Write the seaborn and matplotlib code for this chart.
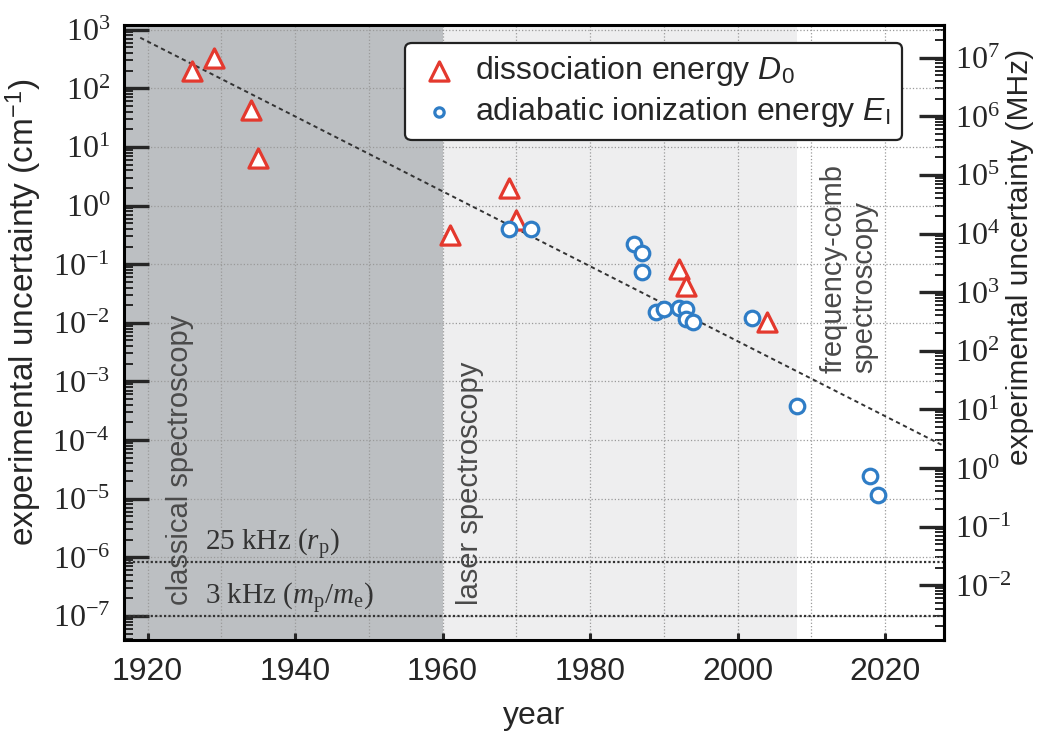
import matplotlib
matplotlib.use("Agg")
import matplotlib.pyplot as plt
import matplotlib.ticker as mticker
import numpy as np
import pandas as pd
import seaborn as sns

# dissociation energy D0 (cm^-1)
diss_years = [1926, 1929, 1934, 1935, 1961, 1969, 1970, 1992, 1993, 2004]
diss_unc = [2.0e2, 3.3e2, 42, 6.4, 0.32, 2.0, 0.57, 0.083, 0.042, 0.0104]

# adiabatic ionization energy EI (cm^-1)
ion_years = [1969, 1972, 1986, 1987, 1987, 1989, 1990, 1992, 1993, 1993, 1994, 2002, 2008, 2018, 2019]
ion_unc = [0.40, 0.40, 0.22, 0.155, 0.074, 0.0152, 0.0173, 0.018, 0.0173, 0.0117, 0.0102,
           0.0122, 3.8e-4, 2.45e-5, 1.15e-5]

# dashed trend line end points
trend_years = [1919, 2028]
trend_unc = [730, 7.9e-5]

# era boundaries (years)
era_edges = [1916.8, 1960, 2008]
era_names = ["classical spectroscopy", "laser spectroscopy", "frequency-comb\nspectroscopy"]

# reference precision lines
ref_unc = [8.34e-7, 1.0e-7]
ref_names = [r"25 kHz ($r_\mathrm{p}$)", r"3 kHz ($m_\mathrm{p}/m_\mathrm{e}$)"]

CM_TO_MHZ = 29979.2458

sns.set_style("white")
plt.rcParams["font.family"] = ["Liberation Sans", "DejaVu Sans"]
plt.rcParams["mathtext.fontset"] = "custom"
plt.rcParams["mathtext.rm"] = "Liberation Serif"
plt.rcParams["mathtext.it"] = "Liberation Serif:italic"
plt.rcParams["mathtext.bf"] = "Liberation Sans:italic"
plt.rcParams["mathtext.sf"] = "Liberation Sans"

red = "#e4392e"
blue = "#2f7dc6"

fig = plt.figure(figsize=(10.42, 7.31), dpi=100)
ax = fig.add_axes([0.119, 0.1245, 0.787, 0.8413])

ax.set_yscale("log")
ax.set_xlim(1916.8, 2028.0)
ax.set_ylim(10 ** -7.41, 10 ** 3.08)

ax.axvspan(era_edges[0], era_edges[1], color="#bcbfc2", zorder=0, lw=0)
ax.axvspan(era_edges[1], era_edges[2], color="#eeeeef", zorder=0, lw=0)

ax.xaxis.set_major_locator(mticker.MultipleLocator(20))
ax.xaxis.set_minor_locator(mticker.MultipleLocator(10))
ax.yaxis.set_major_locator(mticker.LogLocator(base=10, numticks=20))
ax.yaxis.set_minor_locator(mticker.LogLocator(base=10, subs=np.arange(2, 10), numticks=20))
fmt = mticker.FuncFormatter(lambda v, p: r"$10^{%d}$" % round(np.log10(v)))
ax.yaxis.set_major_formatter(fmt)
ax.yaxis.set_minor_formatter(mticker.NullFormatter())

ax.grid(True, which="major", axis="y", color="#9a9a9a", ls=":", lw=0.9, zorder=0.5)
ax.grid(True, which="both", axis="x", color="#9a9a9a", ls=":", lw=0.9, zorder=0.5)

for v in ref_unc:
    ax.axhline(v, color="#333333", ls=(0, (1, 1)), lw=1.6, zorder=1)

sns.lineplot(x=trend_years, y=trend_unc, ax=ax, color="#333333", lw=1.4,
             linestyle=(0, (2.2, 1.8)), zorder=2)

diss = pd.DataFrame({"year": diss_years, "unc": diss_unc})
ion = pd.DataFrame({"year": ion_years, "unc": ion_unc})
sns.scatterplot(data=diss, x="year", y="unc", ax=ax, marker="^", s=190, color="white",
                edgecolor=red, linewidth=2.3, zorder=4,
                label=r"dissociation energy $\mathbf{D}_\mathsf{0}$")
sns.scatterplot(data=ion, x="year", y="unc", ax=ax, marker="o", s=110, color="white",
                edgecolor=blue, linewidth=2.3, zorder=4,
                label=r"adiabatic ionization energy $\mathbf{E}_\mathsf{I}$")

# era labels
ax.text(1924.4, 10 ** -6.82, era_names[0], rotation=90, ha="center", va="bottom",
        fontsize=21, color="#4a4a4a")
ax.text(1963.7, 10 ** -6.82, era_names[1], rotation=90, ha="center", va="bottom",
        fontsize=21, color="#4a4a4a")
ax.text(2015.1, 10 ** -2.85, era_names[2], rotation=90, ha="center", va="bottom",
        multialignment="left", fontsize=21, color="#4a4a4a", linespacing=1.1)

for v, name in zip(ref_unc, ref_names):
    ax.text(1927.8, v * 1.55, name, family="Liberation Serif", fontsize=21,
            color="#333333", ha="left", va="baseline")

for s in ax.spines.values():
    s.set_linewidth(2.2)
    s.set_color("black")

ax.tick_params(axis="y", which="major", direction="in", length=18, width=2.4,
               left=True, right=False, labelsize=23, pad=10)
ax.tick_params(axis="y", which="minor", direction="in", length=6.5, width=1.4,
               left=True, right=False)
ax.tick_params(axis="x", which="major", direction="in", length=5, width=2.2,
               bottom=True, top=False, labelsize=23, pad=12)
ax.tick_params(axis="x", which="minor", length=0)

ax.set_xlabel("year", fontsize=23)
ax.set_ylabel(r"experimental uncertainty (cm$^{\mathsf{-1}}$)", fontsize=24)
ax.yaxis.set_label_coords(-0.097, 0.533)
ax.xaxis.set_label_coords(0.5, -0.1)

sec = ax.secondary_yaxis("right", functions=(lambda x: x * CM_TO_MHZ, lambda x: x / CM_TO_MHZ))
sec.yaxis.set_major_locator(mticker.LogLocator(base=10, numticks=20))
sec.yaxis.set_minor_locator(mticker.LogLocator(base=10, subs=np.arange(2, 10), numticks=20))
sec.yaxis.set_major_formatter(fmt)
sec.yaxis.set_minor_formatter(mticker.NullFormatter())
sec.spines["right"].set_linewidth(2.2)
sec.tick_params(axis="y", which="major", direction="in", length=18, width=2.4,
                labelsize=23, pad=8)
sec.tick_params(axis="y", which="minor", direction="in", length=6.5, width=1.4)
sec.set_ylabel("experimental uncertainty (MHz)", fontsize=21.5)
sec.yaxis.set_label_coords(1.076, 0.623, transform=ax.transAxes)

leg = ax.legend(loc="upper right", bbox_to_anchor=(0.949, 0.971), borderaxespad=0,
                fontsize=23, frameon=True, fancybox=True, edgecolor="#222222",
                framealpha=1, handletextpad=0.45, borderpad=0.35, labelspacing=0.22,
                handlelength=1.4)
leg.get_frame().set_linewidth(1.6)
leg.legend_handles[1].set_sizes([45])
leg.set_zorder(10)

fig.savefig("out.png", dpi=100)
